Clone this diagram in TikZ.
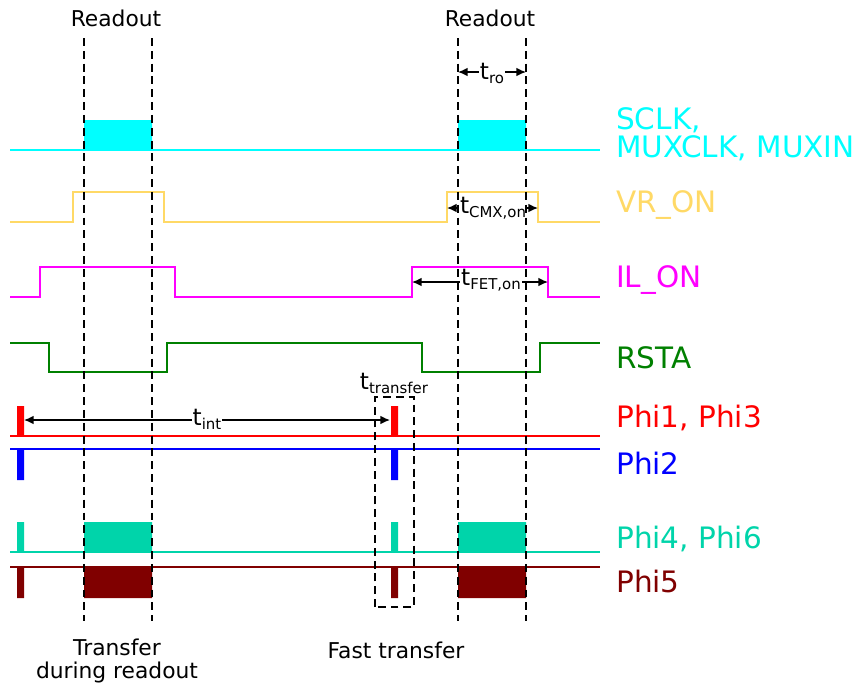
\documentclass[tikz,border=0pt]{standalone}
\usepackage{fontspec}
\setmainfont{DejaVu Sans}
\usetikzlibrary{arrows.meta}
\definecolor{SigCyan}{HTML}{00FFFF}
\definecolor{SigYellow}{HTML}{FFD966}
\definecolor{SigMagenta}{HTML}{FF00FF}
\definecolor{SigGreen}{HTML}{008000}
\definecolor{SigRed}{HTML}{FF0000}
\definecolor{SigBlue}{HTML}{0000FF}
\definecolor{SigTeal}{HTML}{00D4AA}
\definecolor{SigMaroon}{HTML}{800000}
\newcommand{\tsub}[1]{\raisebox{-2.8pt}{\fontsize{8.5pt}{9pt}\selectfont #1}}

\begin{document}
\begin{tikzpicture}[x=0.02cm,y=-0.02cm,line join=miter,
  sig/.style={line width=1.1pt},
  guide/.style={line width=1.2pt,dash pattern=on 4.5pt off 2.8pt},
  span/.style={line width=0.85pt,{Latex[length=5.5pt,width=5pt]}-{Latex[length=5.5pt,width=5pt]}},
  sname/.style={anchor=west,font=\fontsize{16.8pt}{16pt}\selectfont,align=left},
  note/.style={font=\fontsize{12.4pt}{13pt}\selectfont,align=center},
  tlab/.style={font=\fontsize{13.2pt}{14pt}\selectfont,fill=white,inner sep=.6pt,anchor=base}]
  \useasboundingbox (0,0) rectangle (855,687);
  % clocks and switches
  \draw[sig,SigCyan] (10,150)--(600,150);\fill[SigCyan] (84,120) rectangle (152,150) (458,120) rectangle (526,150);
  \draw[sig,SigYellow] (10,222)-|(73,192)-|(164,222)-|(447,192)-|(538,222)--(600,222);
  \draw[sig,SigMagenta] (10,297)-|(40,267)-|(175,297)-|(412,267)-|(548,297)--(600,297);
  \draw[sig,SigGreen] (10,343)-|(49,372)-|(167,343)-|(422,372)-|(540,343)--(600,343);
  % phases
  \draw[sig,SigRed] (10,436)--(600,436);\fill[SigRed] (17,406) rectangle (24,436) (391,406) rectangle (398,436);
  \draw[sig,SigBlue] (10,449)--(600,449);\fill[SigBlue] (17,449) rectangle (24,480) (391,449) rectangle (398,480);
  \draw[sig,SigTeal] (10,552)--(600,552);
  \fill[SigTeal] (17,522) rectangle (24,552) (391,522) rectangle (398,552) (84,522) rectangle (152,552) (458,522) rectangle (526,552);
  \draw[sig,SigMaroon] (10,567)--(600,567);
  \fill[SigMaroon] (17,567) rectangle (24,598) (391,567) rectangle (398,598) (84,567) rectangle (152,598) (458,567) rectangle (526,598);
  % time spans
  \coordinate (ro1) at (458,72);\coordinate (ro2) at (526,72);
  \draw[span] (ro1)--(ro2);\node[tlab] (tro) at (492,79) {t\tsub{ro}};
  \coordinate (cmx1) at (447,208);\coordinate (cmx2) at (538,208);
  \draw[span] (cmx1)--(cmx2);\node[tlab] (tcmx) at (493,213) {t\tsub{CMX,on}};
  \coordinate (fet1) at (412,282);\coordinate (fet2) at (548,282);
  \draw[span] (fet1)--(fet2);\node[tlab] (tfet) at (491,285) {t\tsub{FET,on}};
  \coordinate (int1) at (24,420);\coordinate (int2) at (390,420);
  \draw[span] (int1)--(int2);\node[tlab] (tint) at (207,425) {t\tsub{int}};
  % readout windows
  \foreach \x in {84,152,458,526} \draw[guide] (\x,38)--(\x,621);
  \draw[guide] (375,607)--(375,397)--(414,397)--(414,607)--cycle;
  \node[note] (ro left) at (116,18) {Readout};\node[note] (ro right) at (490,18) {Readout};
  \node[tlab,fill=none] (ttr) at (394,389) {t\tsub{transfer}};
  \node[note] (tdr) at (117,661) {Transfer\\during readout};
  \node[note] (ftr) at (396,650) {Fast transfer};
  % signal names
  \node[sname,SigCyan] (sclk) at (610,134) {SCLK,\\MUXCLK, MUXIN};
  \node[sname,SigYellow] (vron) at (610,205) {VR\_ON};
  \node[sname,SigMagenta] (ilon) at (610,280) {IL\_ON};
  \node[sname,SigGreen] (rsta) at (610,358) {RSTA};
  \node[sname,SigRed] (phi13) at (610,418) {Phi1, Phi3};
  \node[sname,SigBlue] (phi2) at (610,463) {Phi2};
  \node[sname,SigTeal] (phi46) at (610,539) {Phi4, Phi6};
  \node[sname,SigMaroon] (phi5) at (610,581) {Phi5};
\end{tikzpicture}
\end{document}
